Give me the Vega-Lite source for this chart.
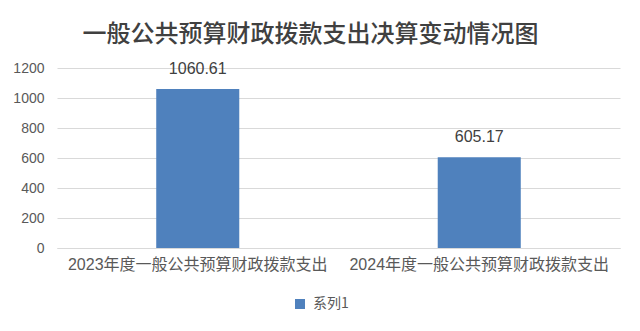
{
  "$schema": "https://vega.github.io/schema/vega-lite/v6.json",
  "autosize": {"type": "none"},
  "width": 563,
  "height": 180,
  "padding": {"left": 57, "top": 68, "right": 20, "bottom": 83},
  "background": "#ffffff",
  "config": {"view": {"stroke": null}},
  "title": {
    "text": "一般公共预算财政拨款支出决算变动情况图",
    "font": "Noto Sans CJK SC",
    "fontSize": 24,
    "fontWeight": 500,
    "color": "#404040",
    "anchor": "middle",
    "dx": -28,
    "offset": 14
  },
  "data": {
    "values": [
      {"category": "2023年度一般公共预算财政拨款支出", "value": 1060.61, "series": "系列1"},
      {"category": "2024年度一般公共预算财政拨款支出", "value": 605.17, "series": "系列1"}
    ]
  },
  "encoding": {
    "x": {
      "field": "category",
      "type": "nominal",
      "sort": null,
      "scale": {"paddingInner": 0.705, "paddingOuter": 0.3525},
      "axis": {
        "title": null,
        "labelAngle": 0,
        "labelLimit": 0,
        "labelFont": "Liberation Sans, Noto Sans CJK SC",
        "labelFontSize": 16,
        "labelColor": "#595959",
        "labelPadding": 8,
        "ticks": false,
        "domainColor": "#D9D9D9",
        "domainWidth": 1,
        "grid": false
      }
    },
    "y": {
      "field": "value",
      "type": "quantitative",
      "scale": {"domain": [0, 1200], "nice": false},
      "axis": {
        "title": null,
        "format": "d",
        "values": [0, 200, 400, 600, 800, 1000, 1200],
        "labelFont": "Liberation Sans",
        "labelFontSize": 14,
        "labelColor": "#595959",
        "labelPadding": 13,
        "ticks": false,
        "domain": false,
        "grid": true,
        "gridColor": "#D9D9D9",
        "gridWidth": 1
      }
    }
  },
  "layer": [
    {
      "mark": {"type": "bar"},
      "encoding": {
        "color": {
          "field": "series",
          "type": "nominal",
          "scale": {"range": ["#4F81BD"]},
          "legend": {
            "title": null,
            "orient": "none",
            "legendX": 236,
            "legendY": 229,
            "symbolType": "square",
            "symbolSize": 100,
            "symbolStrokeWidth": 0,
            "labelFont": "Noto Sans CJK SC",
            "labelFontSize": 14,
            "labelColor": "#595959",
            "labelOffset": 6,
            "padding": 0
          }
        }
      }
    },
    {
      "mark": {
        "type": "text",
        "baseline": "alphabetic",
        "dy": -15,
        "font": "Liberation Sans",
        "fontSize": 16,
        "color": "#404040"
      },
      "encoding": {
        "text": {"field": "value", "type": "quantitative", "format": ".2f"}
      }
    }
  ]
}
